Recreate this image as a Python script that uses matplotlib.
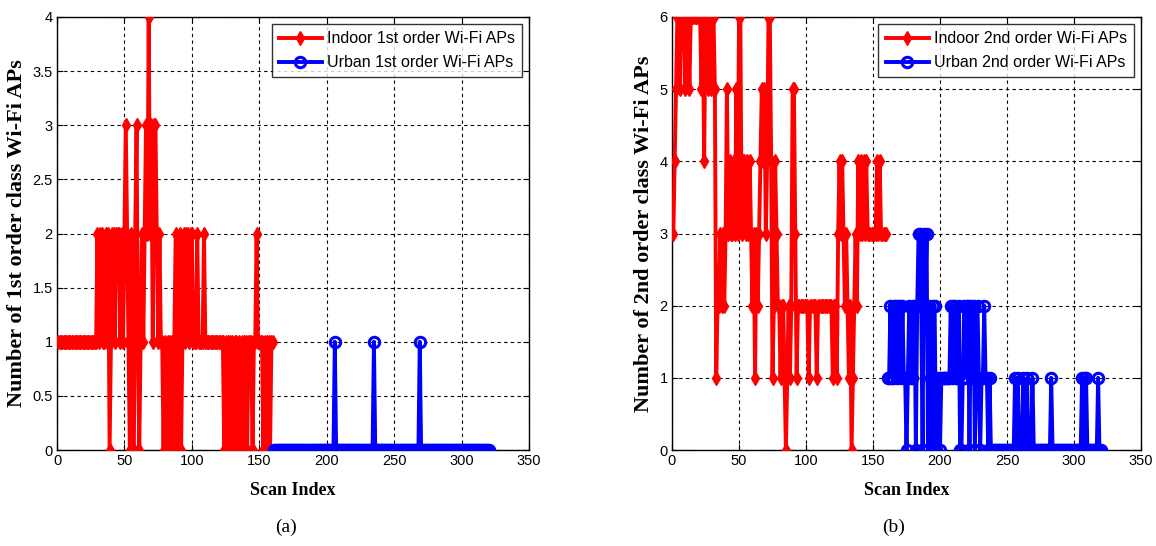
import matplotlib
matplotlib.use("Agg")
import matplotlib.pyplot as plt
import numpy as np

# ---------------- data ----------------
indoor_1st = [1]*29 + [
    2, 1, 2, 2, 1, 1, 2, 1, 2, 0,          # 30-39
    1, 2, 2, 1, 2, 2, 2, 1, 2, 1,          # 40-49
    2, 3, 2, 1, 0, 2, 1, 0, 2, 3,          # 50-59
    1, 0, 1, 2, 1, 2, 3, 2, 4, 2,          # 60-69
    3, 1, 3, 3, 2, 1, 2, 1, 1, 0,          # 70-79
    1, 0, 1, 0, 1, 1, 0, 1, 2, 0,          # 80-89
    1, 2, 0, 1, 2, 1, 2, 2, 1, 2,          # 90-99
    2, 1, 1, 1, 2, 1, 1, 1, 1, 2,          # 100-109
    1, 1, 1, 1, 1, 1, 1, 1, 1, 1,          # 110-119
    1, 1, 1, 1, 0, 1, 0, 1, 1, 0,          # 120-129
    1, 0, 1, 1, 0, 1, 0, 1, 0, 1,          # 130-139
    1, 0, 1, 1, 1, 0, 1, 1, 2, 1,          # 140-149
    1, 1, 1, 0, 1, 0, 1, 1, 0, 1,          # 150-159
    1]                                      # 160
urban_1st = [0]*45 + [1] + [0]*28 + [1] + [0]*33 + [1] + [0]*51

indoor_2nd = [
    3, 4, 5, 6, 6, 5, 6, 6, 6, 5,          # 1-10
    6, 6, 5, 6, 6, 6, 6, 6, 6, 6,          # 11-20
    6, 5, 6, 4, 6, 6, 5, 6, 5, 6,          # 21-30
    6, 5, 1, 2, 2, 3, 2, 3, 2, 3,          # 31-40
    5, 3, 4, 3, 3, 4, 3, 5, 3, 6,          # 41-50
    6, 3, 4, 4, 3, 4, 3, 4, 3, 2,          # 51-60
    3, 1, 3, 2, 3, 4, 5, 4, 5, 3,          # 61-70
    4, 6, 6, 4, 1, 2, 4, 3, 2, 2,          # 71-80
    1, 2, 2, 1, 0, 1, 2, 1, 2, 5,          # 81-90
    5, 3, 1, 2, 2, 2, 2, 2, 2, 2,          # 91-100
    2, 1, 2, 2, 2, 2, 2, 1, 2, 2,          # 101-110
    2, 2, 2, 2, 2, 2, 2, 2, 2, 1,          # 111-120
    2, 2, 1, 3, 4, 3, 4, 3, 2, 3,          # 121-130
    2, 1, 2, 0, 1, 2, 3, 2, 4, 3,          # 131-140
    4, 3, 4, 3, 4, 3, 3, 3, 3, 3,          # 141-150
    3, 3, 4, 3, 4, 3, 3, 3, 3, 3]          # 151-160
urban_2nd = [
    1, 1, 2, 1, 1, 2, 2, 1, 2, 2,          # 161-170
    1, 2, 1, 1, 0, 1, 2, 1, 1, 2,          # 171-180
    2, 0, 2, 3, 3, 2, 0, 3, 2, 3,          # 181-190
    0, 2, 1, 0, 2, 2, 0, 1, 1, 0,          # 191-200
    1, 1, 1, 1, 1, 1, 1, 2, 1, 2,          # 201-210
    2, 1, 1, 2, 0, 0, 1, 2, 1, 2,          # 211-220
    2, 0, 2, 1, 2, 0, 1, 2, 1, 0,          # 221-230
    1, 1, 2, 1, 1, 0, 1, 0, 0, 0,          # 231-240
    0, 0, 0, 0, 0, 0, 0, 0, 0, 0,          # 241-250
    0, 0, 0, 0, 0, 1, 0, 1, 0, 0,          # 251-260
    0, 1, 0, 0, 1, 0, 0, 0, 1, 0,          # 261-270
    0, 0, 0, 0, 0, 0, 0, 0, 0, 0,          # 271-280
    0, 0, 1, 0, 0, 0, 0, 0, 0, 0,          # 281-290
    0, 0, 0, 0, 0, 0, 0, 0, 0, 0,          # 291-300
    0, 0, 0, 0, 0, 1, 0, 1, 1, 0,          # 301-310
    0, 0, 0, 0, 0, 0, 0, 1, 0, 0]          # 311-320

indoor_idx = np.arange(1, len(indoor_1st) + 1)
urban_idx = np.arange(len(indoor_1st) + 1, len(indoor_1st) + len(urban_1st) + 1)

xticks = [0, 50, 100, 150, 200, 250, 300, 350]
yticks_a = [0, 0.5, 1, 1.5, 2, 2.5, 3, 3.5, 4]
yticks_b = [0, 1, 2, 3, 4, 5, 6]

labels_a = ["Indoor 1st order Wi-Fi APs", "Urban 1st order Wi-Fi APs"]
labels_b = ["Indoor 2nd order Wi-Fi APs", "Urban 2nd order Wi-Fi APs"]
ylabel_a = "Number of 1st order class Wi-Fi APs"
ylabel_b = "Number of 2nd order class Wi-Fi APs"
xlabel = "Scan Index"

# ---------------- figure ----------------
W, H = 1156, 546
fig = plt.figure(figsize=(W / 100, H / 100), dpi=100)

def px_axes(x0, x1, y0, y1):
    return fig.add_axes([x0 / W, 1 - y1 / H, (x1 - x0) / W, (y1 - y0) / H])

ax1 = px_axes(57, 529, 17, 450)
ax2 = px_axes(672, 1141, 17, 450)

tick_font = ["Liberation Sans", "DejaVu Sans"]
serif = ["Liberation Serif", "DejaVu Serif"]

def style(ax, yticks, ymax, ylab, legend_labels, indoor, urban):
    ax.plot(indoor_idx, indoor, color="#ff0000", lw=2.8, marker="d", ms=7,
            mfc="#ff0000", mec="#ff0000", label=legend_labels[0], zorder=3)
    ax.plot(urban_idx, urban, color="#0000ff", lw=2.8, marker="o", ms=7.5,
            mfc="none", mec="#0000ff", mew=2.2, label=legend_labels[1], zorder=3)
    ax.set_xlim(0, 350)
    ax.set_ylim(0, ymax)
    ax.set_xticks(xticks)
    ax.set_yticks(yticks)
    ax.set_xticklabels([str(t) for t in xticks], fontfamily=tick_font, fontsize=10.5)
    ax.set_yticklabels([("%g" % t) for t in yticks], fontfamily=tick_font, fontsize=10.5)
    ax.tick_params(direction="in", length=4, width=0.8, pad=3)
    ax.tick_params(top=True, right=True)
    ax.grid(True, color="black", linestyle=(0, (3, 3)), linewidth=0.8)
    for s in ax.spines.values():
        s.set_linewidth(1.0)
        s.set_color("black")
    ax.set_xlabel(xlabel, fontfamily=serif, fontweight="bold", fontsize=13, labelpad=10)
    ax.set_ylabel(ylab, fontfamily=serif, fontweight="bold", fontsize=16, labelpad=4)
    leg = ax.legend(loc="upper right", prop={"family": tick_font, "size": 11.5},
                    frameon=True, fancybox=False, edgecolor="black",
                    borderaxespad=0.45, handlelength=2.7, handletextpad=0.3,
                    borderpad=0.45, labelspacing=0.55)
    leg.get_frame().set_linewidth(1.0)
    leg.set_zorder(5)

style(ax1, yticks_a, 4, ylabel_a, labels_a, indoor_1st, urban_1st)
style(ax2, yticks_b, 6, ylabel_b, labels_b, indoor_2nd, urban_2nd)

fig.text(286 / W, 1 - 527 / H, "(a)", ha="center", va="center",
         fontfamily=serif, fontsize=14)
fig.text(894 / W, 1 - 527 / H, "(b)", ha="center", va="center",
         fontfamily=serif, fontsize=14)

fig.savefig("out.png", dpi=100)
